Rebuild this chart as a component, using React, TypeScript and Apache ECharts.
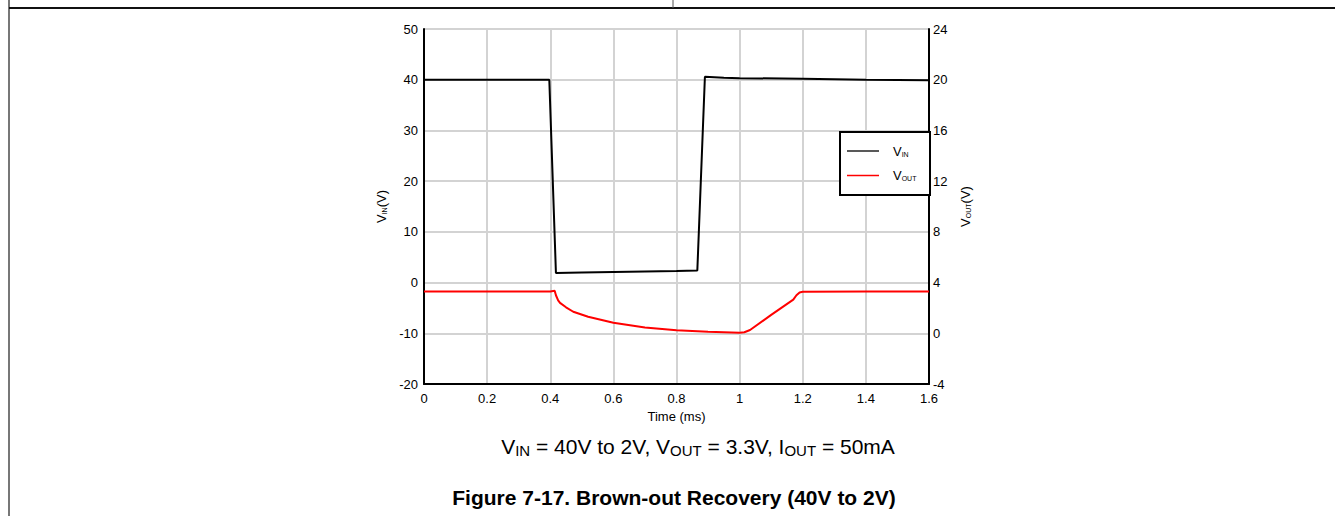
import React, { useEffect, useRef } from "react";
import * as echarts from "echarts";

// Time (ms)
const vinTime = [0, 0.1, 0.2, 0.3, 0.397, 0.418, 0.5, 0.6, 0.7, 0.8, 0.866, 0.89, 0.95, 1.0, 1.2, 1.4, 1.6];
const vinValue = [40, 40, 40, 40, 40, 1.9, 2.0, 2.1, 2.2, 2.3, 2.4, 40.6, 40.4, 40.3, 40.2, 40.0, 39.9];

const voutTime = [0, 0.2, 0.4, 0.414, 0.418, 0.425, 0.431, 0.45, 0.473, 0.52, 0.6, 0.7, 0.8, 0.9, 1.0, 1.015, 1.033, 1.1, 1.17, 1.18, 1.19, 1.2, 1.4, 1.6];
const voutValue = [3.3, 3.3, 3.3, 3.35, 3.0, 2.6, 2.4, 2.05, 1.7, 1.3, 0.83, 0.45, 0.24, 0.12, 0.05, 0.08, 0.26, 1.45, 2.65, 3.0, 3.22, 3.28, 3.3, 3.3];

const xTicks = { min: 0, max: 1.6, interval: 0.2 };
const vinAxis = { min: -20, max: 50, interval: 10 };
const voutAxis = { min: -4, max: 24, interval: 4 };

const FONT = "Liberation Sans, Arial, sans-serif";

const subRich = (size: number, sub: number, pad: number) => ({
  a: { fontSize: size, fill: "#000", color: "#000", fontFamily: FONT },
  b: { fontSize: sub, fill: "#000", color: "#000", fontFamily: FONT, verticalAlign: "bottom", padding: [pad, 0, 0, 0] },
});

export default function App() {
  const ref = useRef<HTMLDivElement>(null);
  useEffect(() => {
    if (!ref.current) return;
    const chart = echarts.init(ref.current, null, { renderer: "svg" });
    const vinData = vinTime.map((t, i) => [t, vinValue[i]]);
    const voutData = voutTime.map((t, i) => [t, voutValue[i]]);
    chart.setOption({
      animation: false,
      textStyle: { fontFamily: FONT },
      grid: { left: 424, right: 406, top: 29, bottom: 132, containLabel: false },
      xAxis: {
        type: "value",
        min: xTicks.min,
        max: xTicks.max,
        interval: xTicks.interval,
        name: "Time (ms)",
        nameLocation: "middle",
        nameGap: 17,
        nameTextStyle: { fontSize: 13, color: "#000", fontFamily: FONT },
        axisLine: { onZero: false, lineStyle: { color: "#000", width: 2 } },
        axisTick: { show: false },
        axisLabel: { fontSize: 13, color: "#000", margin: 8, fontFamily: FONT },
        splitLine: { lineStyle: { color: "#d3d3d3", width: 2 } },
      },
      yAxis: [
        {
          type: "value",
          position: "left",
          min: vinAxis.min,
          max: vinAxis.max,
          interval: vinAxis.interval,
          name: "{a|V}{b|IN}{a|(V)}",
          nameLocation: "middle",
          nameRotate: 90,
          nameGap: 36,
          nameTextStyle: { rich: subRich(13, 7, 6) },
          axisLine: { show: true, onZero: false, lineStyle: { color: "#000", width: 2 } },
          axisTick: { show: false },
          axisLabel: { fontSize: 13, color: "#000", margin: 6, fontFamily: FONT },
          splitLine: { lineStyle: { color: "#d3d3d3", width: 2 } },
        },
        {
          type: "value",
          position: "right",
          min: voutAxis.min,
          max: voutAxis.max,
          interval: voutAxis.interval,
          name: "{a|V}{b|OUT}{a|(V)}",
          nameLocation: "middle",
          nameRotate: 90,
          nameGap: 30,
          nameTextStyle: { rich: subRich(13, 7, 6) },
          axisLine: { show: true, onZero: false, lineStyle: { color: "#000", width: 2 } },
          axisTick: { show: false },
          axisLabel: { fontSize: 13, color: "#000", margin: 4, fontFamily: FONT },
          splitLine: { show: false },
        },
      ],
      series: [
        {
          name: "VIN",
          type: "line",
          yAxisIndex: 0,
          data: vinData,
          showSymbol: false,
          lineStyle: { color: "#000", width: 2 },
          z: 3,
        },
        {
          name: "VOUT",
          type: "line",
          yAxisIndex: 1,
          data: voutData,
          showSymbol: false,
          lineStyle: { color: "#ff0000", width: 2 },
          z: 3,
        },
      ],
      graphic: [
        { type: "line", z: 100, shape: { x1: 9, y1: 0, x2: 9, y2: 516 }, style: { stroke: "#777", lineWidth: 2 } },
        { type: "line", z: 100, shape: { x1: 9, y1: 8, x2: 1335, y2: 8 }, style: { stroke: "#111", lineWidth: 2 } },
        { type: "line", z: 100, shape: { x1: 673, y1: 0, x2: 673, y2: 8 }, style: { stroke: "#555", lineWidth: 1 } },
        { type: "rect", z: 100, shape: { x: 840, y: 132, width: 90, height: 63 }, style: { fill: "#fff", stroke: "#000", lineWidth: 2 } },
        { type: "line", z: 101, shape: { x1: 847, y1: 151, x2: 879, y2: 151 }, style: { stroke: "#222", lineWidth: 1.5 } },
        { type: "line", z: 101, shape: { x1: 847, y1: 175.5, x2: 879, y2: 175.5 }, style: { stroke: "#ff0000", lineWidth: 1.5 } },
        {
          type: "text",
          z: 101,
          x: 893,
          y: 151,
          style: { text: "{a|V}{b|IN}", verticalAlign: "middle", rich: subRich(13, 7, 6) },
        },
        {
          type: "text",
          z: 101,
          x: 893,
          y: 175,
          style: { text: "{a|V}{b|OUT}", verticalAlign: "middle", rich: subRich(13, 7, 6) },
        },
        {
          type: "text",
          x: 698,
          y: 446,
          style: {
            text: "{a|V}{b|IN}{a| = 40V to 2V, V}{b|OUT}{a| = 3.3V, I}{b|OUT}{a| = 50mA}",
            align: "center",
            verticalAlign: "middle",
            rich: subRich(21, 15, 9),
          },
        },
        {
          type: "text",
          x: 674,
          y: 497,
          style: {
            text: "Figure 7-17. Brown-out Recovery (40V to 2V)",
            align: "center",
            verticalAlign: "middle",
            fontSize: 21,
            fontWeight: "bold",
            fill: "#000",
            fontFamily: FONT,
          },
        },
      ],
    });
    return () => chart.dispose();
  }, []);
  return <div ref={ref} style={{ position: "absolute", left: 0, top: 0, width: 1335, height: 516, background: "#fff" }} />;
}
